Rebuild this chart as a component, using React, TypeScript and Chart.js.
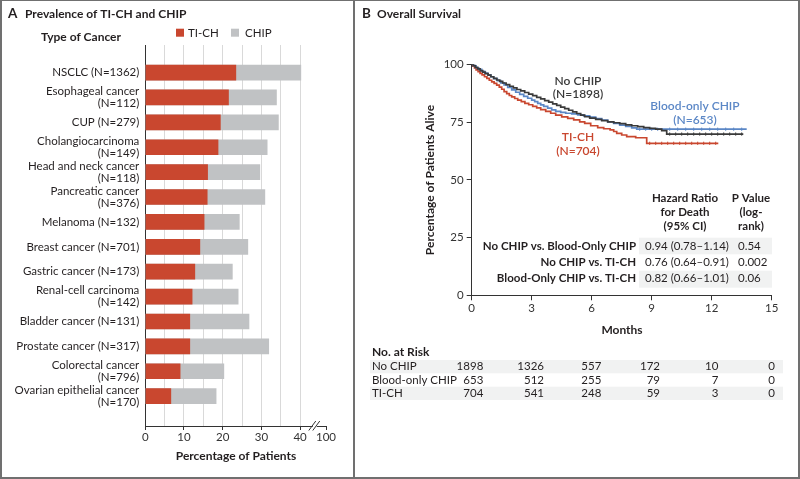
import React, { useEffect, useRef } from 'react';
import { Chart, registerables } from 'chart.js';

Chart.register(...registerables);

// ---------------- DATA ----------------
const cancerLabels: (string | string[])[] = [
  'NSCLC (N=1362)',
  ['Esophageal cancer', '(N=112)'],
  'CUP (N=279)',
  ['Cholangiocarcinoma', '(N=149)'],
  ['Head and neck cancer', '(N=118)'],
  ['Pancreatic cancer', '(N=376)'],
  'Melanoma (N=132)',
  'Breast cancer (N=701)',
  'Gastric cancer (N=173)',
  ['Renal-cell carcinoma', '(N=142)'],
  'Bladder cancer (N=131)',
  'Prostate cancer (N=317)',
  ['Colorectal cancer', '(N=796)'],
  ['Ovarian epithelial cancer', '(N=170)'],
];
const tichValues = [23.4, 21.5, 19.4, 18.8, 16.1, 16.0, 15.2, 14.1, 12.8, 12.1, 11.5, 11.5, 9.0, 6.6];
const chipValues = [40.2, 33.9, 34.4, 31.5, 29.6, 30.9, 24.3, 26.5, 22.5, 24.0, 26.8, 31.9, 20.3, 18.3];
const xTickValues = [0, 10, 20, 30, 40];
const xGridValues = [5, 10, 15, 20, 25, 30, 35, 40];
const xBreakLabel = '100';

// Kaplan-Meier curves (months, % alive)
const noChipTime = [0, 0.08, 0.18, 0.3, 0.42, 0.55, 0.68, 0.82, 0.96, 1.1, 1.25, 1.4, 1.55, 1.72, 1.9, 2.08, 2.26, 2.45, 2.65, 2.85, 3.05, 3.25, 3.45, 3.65, 3.85, 4.05, 4.25, 4.45, 4.65, 4.85, 5.05, 5.25, 5.45, 5.65, 5.9, 6.2, 6.5, 6.8, 7.1, 7.4, 7.7, 8.0, 8.3, 8.6, 8.9, 9.2, 9.5, 9.75, 13.58];
const noChipSurv = [100, 99.4, 98.7, 98.0, 97.3, 96.6, 96.0, 95.3, 94.6, 93.9, 93.2, 92.6, 91.9, 91.2, 90.5, 89.8, 89.1, 88.5, 87.8, 87.1, 86.4, 85.7, 85.0, 84.3, 83.6, 82.9, 82.2, 81.5, 80.8, 80.1, 79.4, 78.7, 78.0, 77.3, 76.7, 76.2, 75.6, 75.1, 74.7, 74.3, 73.8, 73.4, 73.0, 72.6, 72.3, 71.9, 71.3, 69.8, 69.8];
const bloodTime = [0, 0.1, 0.22, 0.35, 0.5, 0.65, 0.8, 0.95, 1.1, 1.28, 1.45, 1.62, 1.8, 2.0, 2.2, 2.4, 2.6, 2.8, 3.0, 3.15, 3.3, 3.45, 3.6, 3.8, 4.0, 4.2, 4.45, 4.7, 5.0, 5.3, 5.6, 5.9, 6.2, 6.5, 6.8, 7.1, 7.4, 7.7, 8.0, 8.25, 9.6, 13.75];
const bloodSurv = [100, 99.3, 98.5, 97.8, 97.0, 96.2, 95.4, 94.6, 93.8, 92.9, 92.0, 91.1, 90.0, 88.9, 87.9, 87.0, 86.1, 85.3, 84.5, 83.8, 83.1, 82.4, 81.8, 81.0, 80.3, 79.6, 79.2, 78.8, 78.5, 78.1, 77.7, 77.1, 76.5, 75.8, 75.1, 74.4, 73.7, 73.1, 72.5, 71.9, 71.9, 71.9];
const tichTime = [0, 0.06, 0.14, 0.22, 0.32, 0.42, 0.52, 0.64, 0.76, 0.88, 1.0, 1.12, 1.25, 1.38, 1.5, 1.62, 1.75, 1.88, 2.0, 2.15, 2.3, 2.48, 2.66, 2.85, 3.05, 3.25, 3.45, 3.7, 3.95, 4.2, 4.5, 4.8, 5.1, 5.4, 5.65, 5.95, 6.3, 6.6, 6.92, 7.1, 7.25, 7.5, 7.75, 8.2, 8.75, 12.33];
const tichSurv = [100, 99.2, 98.4, 97.6, 96.8, 96.1, 95.4, 94.6, 93.9, 93.1, 92.4, 91.7, 91.0, 90.1, 89.2, 88.2, 87.3, 86.5, 85.9, 85.2, 84.5, 83.8, 83.1, 82.5, 81.8, 81.1, 80.4, 79.6, 78.8, 78.0, 77.2, 76.6, 75.9, 75.1, 74.4, 73.4, 72.6, 72.1, 71.6, 70.9, 70.1, 69.4, 68.7, 68.2, 65.8, 65.8];

// censoring marks on the flat tails (months)
const noChipCensor = [9.9, 10.2, 10.5, 10.8, 11.1, 11.4, 11.7, 12.0, 12.3, 12.6, 12.9, 13.2, 13.5];
const bloodCensor = [8.4, 8.7, 9.0, 9.3, 9.9, 10.3, 10.7, 11.1, 11.5, 11.9, 12.3, 12.7, 13.1, 13.5];
const tichCensor = [8.9, 9.2, 9.5, 9.8, 10.1, 10.4, 10.7, 11.0, 11.3, 11.6, 11.9, 12.2];

const hrComparisons = ['No CHIP vs. Blood-Only CHIP', 'No CHIP vs. TI-CH', 'Blood-Only CHIP vs. TI-CH'];
const hrValues = ['0.94 (0.78\u20131.14)', '0.76 (0.64\u20130.91)', '0.82 (0.66\u20131.01)'];
const pValues = ['0.54', '0.002', '0.06'];

const riskTimes = [0, 3, 6, 9, 12, 15];
const riskGroups = ['No CHIP', 'Blood-only CHIP', 'TI-CH'];
const riskNoChip = [1898, 1326, 557, 172, 10, 0];
const riskBlood = [653, 512, 255, 79, 7, 0];
const riskTich = [704, 541, 248, 59, 3, 0];

// ---------------- STYLE ----------------
const FONT = 'Lato, "Open Sans", Arial, sans-serif';
const RED = '#c9472f';
const GRAY = '#c0c2c4';
const DARK = '#3a3a3a';
const BLUE = '#5b87c6';
const TEXT = '#231f20';
const AXIS = '#333333';
const GRID = '#d9d9d9';
const BAND = '#f1f2f2';

const BREAK_POS = 46.7; // axis position standing for 100 after the break
const Y_MIN = -0.56;
const Y_MAX = 13.652;

function txt(ctx: CanvasRenderingContext2D, s: string, x: number, y: number,
  o: { size?: number; weight?: string; color?: string; align?: CanvasTextAlign } = {}) {
  ctx.save();
  ctx.font = `${o.weight || 'normal'} ${o.size || 11.5}px ${FONT}`;
  ctx.fillStyle = o.color || TEXT;
  ctx.textAlign = o.align || 'left';
  ctx.textBaseline = 'middle';
  ctx.fillText(s, x, y);
  ctx.restore();
}

const leftText = {
  id: 'leftText',
  afterDraw(chart: any) {
    const ctx = chart.ctx as CanvasRenderingContext2D;
    txt(ctx, 'A', 8, 14, { size: 13.5, weight: 'bold' });
    txt(ctx, 'Prevalence of TI-CH and CHIP', 25, 14, { size: 12, weight: 'bold' });
    txt(ctx, 'Type of Cancer', 41, 37, { size: 12, weight: 'bold' });
    ctx.fillStyle = RED;
    ctx.fillRect(176, 28.7, 8, 8);
    txt(ctx, 'TI-CH', 188, 33);
    ctx.fillStyle = GRAY;
    ctx.fillRect(231, 28.7, 8, 8);
    txt(ctx, 'CHIP', 245, 33);
    txt(ctx, 'Percentage of Patients', 236, 456, { size: 12, weight: 'bold', align: 'center' });
    // axis break
    const xs = chart.scales.x;
    const yb = chart.chartArea.bottom;
    const bx = xs.getPixelForValue(43.8);
    ctx.save();
    ctx.fillStyle = '#fff';
    ctx.fillRect(bx - 2, yb - 2, 4, 4);
    ctx.strokeStyle = AXIS;
    ctx.lineWidth = 1;
    ctx.beginPath();
    ctx.moveTo(bx - 6, yb + 4.5); ctx.lineTo(bx + 1, yb - 5);
    ctx.moveTo(bx - 2, yb + 4.5); ctx.lineTo(bx + 5, yb - 5);
    ctx.stroke();
    ctx.restore();
  },
};

const rightText = {
  id: 'rightText',
  afterDraw(chart: any) {
    const ctx = chart.ctx as CanvasRenderingContext2D;
    const xs = chart.scales.x;
    txt(ctx, 'B', 362, 14, { size: 13.5, weight: 'bold' });
    txt(ctx, 'Overall Survival', 377, 14, { size: 12, weight: 'bold' });
    ctx.save();
    ctx.translate(430, 180);
    ctx.rotate(-Math.PI / 2);
    txt(ctx, 'Percentage of Patients Alive', 0, 0, { size: 12, weight: 'bold', align: 'center' });
    ctx.restore();
    txt(ctx, 'Months', 622, 330, { size: 12, weight: 'bold', align: 'center' });

    // curve labels
    txt(ctx, 'No CHIP', 578, 81, { size: 12, weight: '600', color: DARK, align: 'center' });
    txt(ctx, '(N=1898)', 578, 94.5, { size: 12, weight: '600', color: DARK, align: 'center' });
    txt(ctx, 'Blood-only CHIP', 695, 106.5, { size: 12, weight: '600', color: BLUE, align: 'center' });
    txt(ctx, '(N=653)', 695, 120, { size: 12, weight: '600', color: BLUE, align: 'center' });
    txt(ctx, 'TI-CH', 578, 137, { size: 12, weight: '600', color: RED, align: 'center' });
    txt(ctx, '(N=704)', 578, 151.5, { size: 12, weight: '600', color: RED, align: 'center' });

    // hazard ratio table
    ['Hazard Ratio', 'for Death', '(95% CI)'].forEach((s, i) =>
      txt(ctx, s, 685, 198.5 + i * 14, { weight: 'bold', align: 'center' }));
    ['P Value', '(log-', 'rank)'].forEach((s, i) =>
      txt(ctx, s, 751, 198.5 + i * 14, { weight: 'bold', align: 'center' }));
    ctx.fillStyle = BAND;
    ctx.fillRect(639, 237.7, 133, 16.6);
    ctx.fillRect(639, 270.7, 133, 17);
    hrComparisons.forEach((s, i) => {
      const y = 246 + i * 16.35;
      txt(ctx, s, 636, y, { weight: 'bold', align: 'right' });
      txt(ctx, hrValues[i], 645, y);
      txt(ctx, pValues[i], 738, y);
    });

    // number at risk
    txt(ctx, 'No. at Risk', 372, 352, { size: 12, weight: 'bold' });
    ctx.fillStyle = BAND;
    ctx.fillRect(370, 360, 413, 13.3);
    ctx.fillRect(370, 386.7, 413, 13.3);
    const offs = [11.6, 12.3, 9.6, 8.3, 6.6, 3.3];
    [riskNoChip, riskBlood, riskTich].forEach((row, r) => {
      const y = 366.7 + r * 13.3;
      txt(ctx, riskGroups[r], 372, y);
      row.forEach((n, c) => {
        txt(ctx, String(n), xs.getPixelForValue(riskTimes[c]) + offs[c], y, { align: 'right' });
      });
    });
  },
};

export default function App() {
  const leftRef = useRef<HTMLCanvasElement>(null);
  const rightRef = useRef<HTMLCanvasElement>(null);

  useEffect(() => {
    const tickFont = { family: FONT, size: 11.5 };
    const left = new Chart(leftRef.current as HTMLCanvasElement, {
      type: 'bar',
      data: {
        datasets: [
          { label: 'TI-CH', data: tichValues.map((v, i) => ({ x: v, y: i })), backgroundColor: RED, grouped: false, barThickness: 15 } as any,
          { label: 'CHIP', data: chipValues.map((v, i) => ({ x: v, y: i })), backgroundColor: GRAY, grouped: false, barThickness: 15 } as any,
        ],
      },
      options: {
        indexAxis: 'y',
        responsive: false,
        animation: false,
        events: [],
        layout: { padding: { top: 45, left: 0, right: 800 - 326, bottom: 0 } },
        plugins: { legend: { display: false }, tooltip: { enabled: false } },
        scales: {
          x: {
            type: 'linear', min: 0, max: BREAK_POS,
            afterBuildTicks: (s: any) => {
              const vals = Array.from(new Set([0, ...xGridValues, ...xTickValues, BREAK_POS])).sort((a, b) => a - b);
              s.ticks = vals.map((v) => ({ value: v }));
            },
            afterFit: (s: any) => { s.height = 479 - 426; },
            ticks: {
              autoSkip: false, maxRotation: 0, padding: 0, color: AXIS, font: tickFont,
              callback: (v: any) => (v === BREAK_POS ? xBreakLabel : xTickValues.includes(v) ? String(v) : ''),
            },
            grid: {
              drawOnChartArea: true, tickLength: 4, lineWidth: 1,
              color: (c: any) => (c.tick && c.tick.value > 0 && c.tick.value <= 40 ? GRID : 'rgba(0,0,0,0)'),
              tickColor: (c: any) => (c.tick && (xTickValues.includes(c.tick.value) || c.tick.value === BREAK_POS) ? AXIS : 'rgba(0,0,0,0)'),
            },
            border: { display: true, color: AXIS, width: 1 },
          },
          y: {
            type: 'linear', reverse: true, min: Y_MIN, max: Y_MAX,
            afterBuildTicks: (s: any) => { s.ticks = cancerLabels.map((_, i) => ({ value: i })); },
            afterFit: (s: any) => { s.width = 145.3; },
            ticks: {
              autoSkip: false, padding: 6, color: TEXT,
              font: { family: FONT, size: 11.5, lineHeight: 1.04 },
              callback: (v: any) => cancerLabels[v] as any,
            },
            grid: { display: true, drawOnChartArea: false, drawTicks: false },
            border: { display: true, color: AXIS, width: 1 },
          },
        },
      },
      plugins: [leftText],
    } as any);

    const pts = (t: number[], s: number[]) => t.map((x, i) => ({ x, y: s[i] }));
    // censor marks sit on the curve level at their time (last step at or before t)
    const censorPts = (c: number[], t: number[], s: number[]) => c.map((x) => {
      let y = s[0];
      for (let i = 0; i < t.length; i++) if (t[i] <= x) y = s[i];
      return { x, y };
    });
    const curve = (label: string, t: number[], s: number[], color: string) => ({
      label, data: pts(t, s), borderColor: color, borderWidth: 1.7, stepped: true, pointRadius: 0, fill: false,
    });
    const censor = (label: string, c: number[], t: number[], s: number[], color: string) => ({
      label, data: censorPts(c, t, s), showLine: false, pointStyle: 'line', rotation: 90, pointRadius: 1.6,
      pointBorderWidth: 1, pointBorderColor: color, pointBackgroundColor: color, borderColor: color,
    });
    const right = new Chart(rightRef.current as HTMLCanvasElement, {
      type: 'line',
      data: {
        datasets: [
          censor('No CHIP censored', noChipCensor, noChipTime, noChipSurv, DARK),
          curve('No CHIP', noChipTime, noChipSurv, DARK),
          censor('Blood-only CHIP censored', bloodCensor, bloodTime, bloodSurv, BLUE),
          curve('Blood-only CHIP', bloodTime, bloodSurv, BLUE),
          censor('TI-CH censored', tichCensor, tichTime, tichSurv, RED),
          curve('TI-CH', tichTime, tichSurv, RED),
        ],
      },
      options: {
        responsive: false,
        animation: false,
        events: [],
        layout: { padding: { top: 64.3, left: 0, right: 800 - 771.7, bottom: 0 } },
        plugins: { legend: { display: false }, tooltip: { enabled: false } },
        scales: {
          x: {
            type: 'linear', min: 0, max: 15,
            afterFit: (s: any) => { s.height = 479 - 295.3; },
            ticks: { stepSize: 3, padding: 1, color: AXIS, font: tickFont, maxRotation: 0 },
            grid: { drawOnChartArea: false, tickLength: 5, tickColor: AXIS },
            border: { display: true, color: AXIS, width: 1 },
          },
          y: {
            type: 'linear', min: 0, max: 100,
            afterFit: (s: any) => { s.width = 471.7; },
            ticks: { stepSize: 25, padding: 3, color: AXIS, font: tickFont },
            grid: { drawOnChartArea: false, tickLength: 5, tickColor: AXIS },
            border: { display: true, color: AXIS, width: 1 },
          },
        },
      },
      plugins: [rightText],
    } as any);

    return () => { left.destroy(); right.destroy(); };
  }, []);

  return (
    <div style={{ position: 'absolute', left: 0, top: 0, width: 800, height: 479, background: '#fff', overflow: 'hidden' }}>
      <canvas ref={leftRef} width={800} height={479} style={{ position: 'absolute', left: 0, top: 0 }} />
      <canvas ref={rightRef} width={800} height={479} style={{ position: 'absolute', left: 0, top: 0 }} />
      <div style={{ position: 'absolute', left: 0, top: 0, width: 800, height: 479, boxSizing: 'border-box', borderStyle: 'solid', borderColor: '#707070', borderWidth: '1px 2px 2px 2px', pointerEvents: 'none' }} />
      <div style={{ position: 'absolute', left: 353, top: 0, width: 2, height: 479, background: '#707070' }} />
    </div>
  );
}
